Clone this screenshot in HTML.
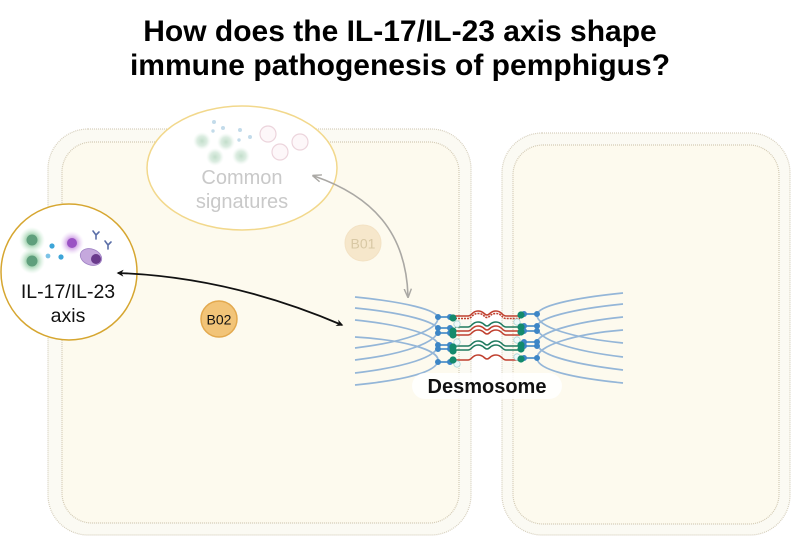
<!DOCTYPE html>
<html><head><meta charset="utf-8"><style>
html,body{margin:0;padding:0;background:#fff;}
svg{display:block;}
text{font-family:"Liberation Sans",Arial,sans-serif;}
</style></head><body>
<svg width="800" height="545" viewBox="0 0 800 545" xmlns="http://www.w3.org/2000/svg">
<defs>
  <radialGradient id="gG"><stop offset="0" stop-color="#5aa878" stop-opacity="0.9"/><stop offset="0.5" stop-color="#8fcaa0" stop-opacity="0.65"/><stop offset="1" stop-color="#c8ecd2" stop-opacity="0"/></radialGradient>
  <radialGradient id="gP"><stop offset="0" stop-color="#9a4fc0" stop-opacity="0.9"/><stop offset="0.5" stop-color="#c58ce0" stop-opacity="0.6"/><stop offset="1" stop-color="#ecd6f6" stop-opacity="0"/></radialGradient>
  <radialGradient id="gGf"><stop offset="0" stop-color="#c2ddca" stop-opacity="1"/><stop offset="0.55" stop-color="#d3e8da" stop-opacity="0.8"/><stop offset="1" stop-color="#e8f4ec" stop-opacity="0"/></radialGradient>
  <marker id="ab" viewBox="0 0 10 10" refX="8" refY="5" markerWidth="7" markerHeight="7" orient="auto-start-reverse" markerUnits="userSpaceOnUse"><path d="M0,0 L10,5 L0,10 L3,5 z" fill="#111"/></marker>
  <marker id="ag" viewBox="0 0 10 10" refX="8" refY="5" markerWidth="9" markerHeight="9" orient="auto-start-reverse" markerUnits="userSpaceOnUse"><path d="M0,1 L10,5 L0,9" fill="none" stroke="#aaa8a4" stroke-width="1.6"/></marker>
</defs>

<!-- Title -->
<text x="400" y="41" font-size="30" font-weight="bold" text-anchor="middle" fill="#000">How does the IL-17/IL-23 axis shape</text>
<text x="400" y="75" font-size="30" font-weight="bold" text-anchor="middle" fill="#000">immune pathogenesis of pemphigus?</text>

<!-- Left cell -->
<rect x="48" y="129" width="423" height="406" rx="40" fill="#fbfaf3" stroke="#d6cfbd" stroke-width="1.2" stroke-dasharray="1 1"/>
<rect x="62" y="142" width="397" height="381" rx="30" fill="#fdfaee" stroke="#d3cab4" stroke-width="1.2" stroke-dasharray="1 1"/>
<!-- Right cell -->
<rect x="502" y="133" width="288" height="402" rx="40" fill="#fbfaf3" stroke="#d6cfbd" stroke-width="1.2" stroke-dasharray="1 1"/>
<rect x="513" y="145" width="266" height="379" rx="30" fill="#fdfaee" stroke="#d3cab4" stroke-width="1.2" stroke-dasharray="1 1"/>

<!-- Common signatures ellipse -->
<ellipse cx="242" cy="168" rx="95" ry="62" fill="#fff" stroke="#f2d88c" stroke-width="1.5"/>
<circle cx="202" cy="141" r="9" fill="url(#gGf)"/>
<circle cx="226" cy="142" r="9" fill="url(#gGf)"/>
<circle cx="215" cy="157" r="9" fill="url(#gGf)"/>
<circle cx="241" cy="156" r="9" fill="url(#gGf)"/>
<circle cx="214" cy="122" r="2" fill="#c3dbea"/>
<circle cx="223" cy="128" r="2" fill="#c3dbea"/>
<circle cx="213" cy="131" r="1.7" fill="#c3dbea"/>
<circle cx="240" cy="130" r="2" fill="#c3dbea"/>
<circle cx="250" cy="137" r="2" fill="#c3dbea"/>
<circle cx="239" cy="140" r="1.7" fill="#c3dbea"/>
<circle cx="268" cy="134" r="8" fill="#fdf7f9" stroke="#ecd4dc" stroke-width="1.2"/>
<circle cx="280" cy="152" r="8" fill="#fdf7f9" stroke="#ecd4dc" stroke-width="1.2"/>
<circle cx="300" cy="142" r="8" fill="#fdf7f9" stroke="#ecd4dc" stroke-width="1.2"/>
<text x="242" y="184" font-size="20" text-anchor="middle" fill="#c9c9c9">Common</text>
<text x="242" y="208" font-size="20" text-anchor="middle" fill="#c9c9c9">signatures</text>

<!-- B01 -->
<circle cx="363" cy="243" r="18" fill="#f6e7cb" stroke="#f3e2c4" stroke-width="1"/>
<text x="363" y="248.5" font-size="14" text-anchor="middle" fill="#d8c8a4">B01</text>

<!-- IL-17/IL-23 circle -->
<circle cx="69" cy="272" r="68" fill="#fff" stroke="#d6a630" stroke-width="1.5"/>
<circle cx="32" cy="240" r="13" fill="url(#gG)"/>
<circle cx="32" cy="240" r="5.5" fill="#5f9f7c"/>
<circle cx="32" cy="261" r="13" fill="url(#gG)"/>
<circle cx="32" cy="261" r="5.5" fill="#5f9f7c"/>
<circle cx="52" cy="246" r="2.6" fill="#3da5d8"/>
<circle cx="48" cy="256" r="2.4" fill="#7cc3e6"/>
<circle cx="61" cy="257" r="2.6" fill="#3da5d8"/>
<circle cx="72" cy="243" r="12" fill="url(#gP)"/>
<circle cx="72" cy="243" r="5" fill="#9a52c4"/>
<ellipse cx="91" cy="257" rx="11" ry="8" transform="rotate(20 91 257)" fill="#c5a8dd" stroke="#9f82c4" stroke-width="0.8"/>
<circle cx="96" cy="259" r="5" fill="#6a3a8c"/>
<g stroke="#5b6fa8" stroke-width="1.6" fill="none" stroke-linecap="round">
  <path d="M96,239 L96,235 M96,235 L93,231 M96,235 L99,232"/>
  <path d="M108,249 L108,245 M108,245 L105,241 M108,245 L111,242"/>
</g>
<text x="68" y="298" font-size="19.5" text-anchor="middle" fill="#111">IL-17/IL-23</text>
<text x="68" y="322" font-size="19.5" text-anchor="middle" fill="#111">axis</text>

<!-- B02 -->
<circle cx="219" cy="319" r="18" fill="#f2c478" stroke="#e3a94e" stroke-width="1.5"/>
<text x="219" y="324.5" font-size="14" text-anchor="middle" fill="#111">B02</text>

<!-- Arrows -->
<path d="M118,273 Q230,277 342,325" fill="none" stroke="#111" stroke-width="1.8" marker-start="url(#ab)" marker-end="url(#ab)"/>
<path d="M314,176 C372,196 406,232 408,296" fill="none" stroke="#aaa8a4" stroke-width="1.6" marker-start="url(#ag)" marker-end="url(#ag)"/>

<!-- Keratin filaments left -->
<g fill="none" stroke="#94b6d8" stroke-width="1.7">
  <path d="M355,297 C405,302 438,310 438,318 C438,330 405,342 355,348"/>
  <path d="M355,308 C405,313 438,322 438,330 C438,342 405,354 355,360"/>
  <path d="M355,320 C405,325 438,336 438,345 C438,357 405,367 355,373"/>
  <path d="M355,337 C405,340 438,350 438,360 C438,372 405,380 355,385"/>
</g>
<!-- Keratin filaments right -->
<g fill="none" stroke="#94b6d8" stroke-width="1.7">
  <path d="M623,293 C573,298 537,306 537,315 C537,327 573,338 623,343"/>
  <path d="M623,304 C573,309 537,318 537,327 C537,340 573,351 623,357"/>
  <path d="M623,317 C573,322 537,333 537,343 C537,355 573,364 623,370"/>
  <path d="M623,330 C573,334 537,346 537,358 C537,370 573,378 623,383"/>
</g>

<!-- Cadherin lines -->
<g fill="none" stroke-width="1.6">
  <path d="M455,316 L468,316 C472,316 472,311 478,311 C484,311 484,315 487,315 C490,315 490,311 496,311 C502,311 502,316 506,316 L520,316" stroke="#c0402f"/>
  <path d="M455,318.5 L468,318.5 C472,318.5 472,313.5 478,313.5 C484,313.5 484,317.5 487,317.5 C490,317.5 490,313.5 496,313.5 C502,313.5 502,318.5 506,318.5 L520,318.5" stroke="#c0402f" stroke-dasharray="2 1"/>
  <path d="M455,327 L468,327 C472,327 472,322 478,322 C484,322 484,326 487,326 C490,326 490,322 496,322 C502,322 502,327 506,327 L520,327" stroke="#1f7a5f"/>
  <path d="M455,331 L468,331 C472,331 472,326 478,326 C484,326 484,330 487,330 C490,330 490,326 496,326 C502,326 502,331 506,331 L520,331" stroke="#c0402f"/>
  <path d="M455,335 L468,335 C472,335 472,330 478,330 C484,330 484,334 487,334 C490,334 490,330 496,330 C502,330 502,335 506,335 L520,335" stroke="#c0402f"/>
  <path d="M455,346 L468,346 C472,346 472,341 478,341 C484,341 484,345 487,345 C490,345 490,341 496,341 C502,341 502,346 506,346 L520,346" stroke="#1f7a5f"/>
  <path d="M455,350 L468,350 C472,350 472,345 478,345 C484,345 484,349 487,349 C490,349 490,345 496,345 C502,345 502,350 506,350 L520,350" stroke="#1f7a5f"/>
  <path d="M455,360 L468,360 C472,360 472,355 478,355 C484,355 484,359 487,359 C490,359 490,355 496,355 C502,355 502,360 506,360 L520,360" stroke="#c0402f"/>
</g>

<!-- Left plaque -->
<g stroke="#3d86c6" stroke-width="1.6" fill="#3d86c6">
  <line x1="438" y1="317" x2="450" y2="317"/><circle cx="438" cy="317" r="2.2"/><circle cx="450" cy="317" r="2.2"/>
  <line x1="438" y1="328" x2="450" y2="328"/><circle cx="438" cy="328" r="2.2"/><circle cx="450" cy="328" r="2.2"/>
  <line x1="438" y1="333" x2="450" y2="333"/><circle cx="438" cy="333" r="2.2"/><circle cx="450" cy="333" r="2.2"/>
  <line x1="438" y1="345" x2="450" y2="345"/><circle cx="438" cy="345" r="2.2"/><circle cx="450" cy="345" r="2.2"/>
  <line x1="438" y1="349" x2="450" y2="349"/><circle cx="438" cy="349" r="2.2"/><circle cx="450" cy="349" r="2.2"/>
  <line x1="438" y1="362" x2="450" y2="362"/><circle cx="438" cy="362" r="2.2"/><circle cx="450" cy="362" r="2.2"/>
</g>
<g fill="#eef8f8" stroke="#a8d6d8" stroke-width="0.8">
  <circle cx="457" cy="324" r="3.2"/><circle cx="457" cy="342" r="3.2"/><circle cx="457" cy="364" r="3.2"/>
</g>
<g fill="#138a6c">
  <circle cx="453" cy="318" r="3.6"/><circle cx="453" cy="331" r="3.6"/><circle cx="453" cy="335" r="3.6"/>
  <circle cx="453" cy="347" r="3.6"/><circle cx="453" cy="351" r="3.6"/><circle cx="453" cy="360" r="3.6"/>
</g>

<!-- Right plaque -->
<g stroke="#3d86c6" stroke-width="1.6" fill="#3d86c6">
  <line x1="524" y1="314" x2="537" y2="314"/><circle cx="524" cy="314" r="2.2"/><circle cx="537" cy="314" r="2.2"/>
  <line x1="524" y1="326" x2="537" y2="326"/><circle cx="524" cy="326" r="2.2"/><circle cx="537" cy="326" r="2.2"/>
  <line x1="524" y1="331" x2="537" y2="331"/><circle cx="524" cy="331" r="2.2"/><circle cx="537" cy="331" r="2.2"/>
  <line x1="524" y1="342" x2="537" y2="342"/><circle cx="524" cy="342" r="2.2"/><circle cx="537" cy="342" r="2.2"/>
  <line x1="524" y1="346" x2="537" y2="346"/><circle cx="524" cy="346" r="2.2"/><circle cx="537" cy="346" r="2.2"/>
  <line x1="524" y1="358" x2="537" y2="358"/><circle cx="524" cy="358" r="2.2"/><circle cx="537" cy="358" r="2.2"/>
</g>
<g fill="#eef8f8" stroke="#a8d6d8" stroke-width="0.8">
  <circle cx="517" cy="322" r="3.2"/><circle cx="517" cy="340" r="3.2"/><circle cx="517" cy="357" r="3.2"/>
</g>
<g fill="#138a6c">
  <circle cx="521" cy="315" r="3.6"/><circle cx="521" cy="327" r="3.6"/><circle cx="521" cy="332" r="3.6"/>
  <circle cx="521" cy="345" r="3.6"/><circle cx="521" cy="349" r="3.6"/><circle cx="521" cy="359" r="3.6"/>
</g>

<!-- Desmosome label -->
<rect x="412" y="373" width="150" height="26" rx="13" fill="#fff" fill-opacity="0.85"/>
<text x="487" y="393" font-size="20" font-weight="bold" text-anchor="middle" fill="#111">Desmosome</text>
</svg>
</body></html>
